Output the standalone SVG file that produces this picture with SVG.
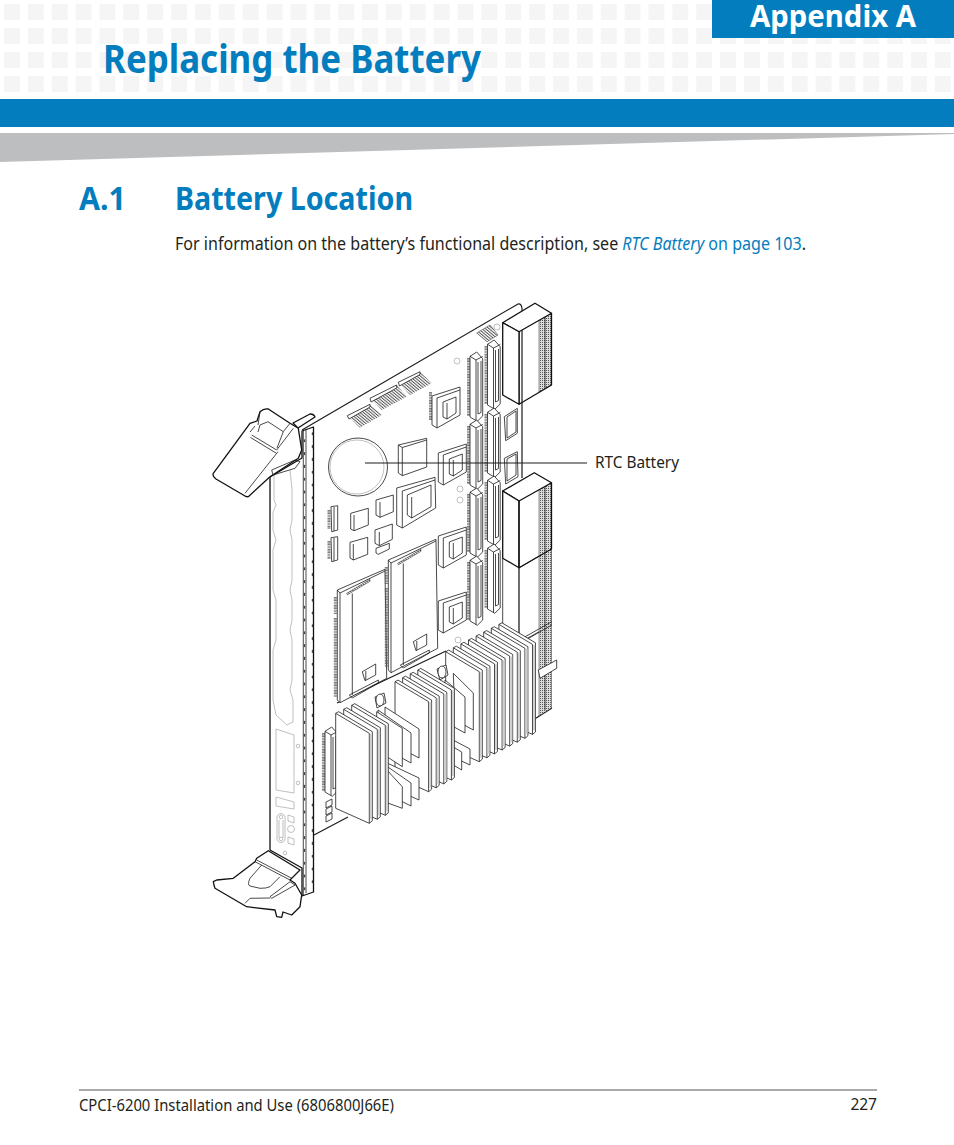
<svg xmlns="http://www.w3.org/2000/svg" width="954" height="1145" viewBox="0 0 954 1145">
<style>
.t{font-family:"Noto Sans","Open Sans","Liberation Sans",sans-serif}
.b{font-weight:700;fill:#037dbd}
.k{fill:#231f20}
.a{fill:#037dbd}
.l{fill:#fff;stroke:#1c1c1c;stroke-width:.8;stroke-linejoin:round}
.h{fill:#fff;stroke:#111;stroke-width:1.3;stroke-linejoin:round}
.n{fill:none;stroke:#1c1c1c;stroke-width:.8;stroke-linejoin:round}
.g{fill:none;stroke:#a5a5a5;stroke-width:.7}
.s{fill:none;stroke:#cfcfcf;stroke-width:2}
.p{fill:none;stroke:#555;stroke-width:3;stroke-dasharray:.8 .8}
.r{fill:none;stroke:#444;stroke-width:1.5;stroke-dasharray:1.6 11.2;stroke-linecap:round}
</style>
<defs>
<pattern id="sq" x="4" y="4" width="23.87" height="24" patternUnits="userSpaceOnUse"><rect width="16" height="16" fill="#f5f5f5"/></pattern>
<pattern id="hx" width="2.3" height="20" patternUnits="userSpaceOnUse" patternTransform="rotate(-50)"><rect width="2.3" height="20" fill="#fff"/><rect width="1" height="20" fill="#555"/></pattern>
<pattern id="cr" width="2" height="2" patternUnits="userSpaceOnUse"><rect width="2" height="2" fill="#dcdcdc"/><rect width="1" height="1" fill="#555"/></pattern>
<g id="conn">
<line class="p" x1="-1.5" y1="6" x2="-1.5" y2="64"/>
<path class="l" d="M6.7,0 L0,4.3 V65 L7.3,69.3 L12.7,64 V6.7 Z"/>
<path class="n" d="M0,4.3 L6,8 L12.7,4.5 M6,8 V68.5 M8,10 V62 L11,60.5 V9"/>
</g>
<g id="quad">
<path class="l" d="M0,9 L28,0 V28 L5,41 L0,38 Z"/>
<path class="n" d="M5,11 V41 M5,11 L28,3 M11,15 L24,10 V26 L15,32 L11,30 Z M15,16 V32"/>
</g>
<g id="fin">
<path class="l" d="M0,0 L3,-1.6 L36.6,18.4 V107.5 L33.6,110 L0,95 Z"/>
<path class="n" d="M0,0 L33.6,20 V110"/>
<line class="s" x1="35.2" y1="20.5" x2="35.2" y2="106"/>
</g>
<g id="mem">
<line class="p" x1="-2" y1="7" x2="-2" y2="24"/>
<line class="p" x1="-2" y1="28" x2="-2" y2="107"/>
<path class="l" d="M0,0 L47.7,-20.7 L49.4,88.3 L2.7,112.7 L0,110 Z"/>
<path class="n" d="M0,0 L2.7,3 L47.7,-19 M2.7,3 V112.7 M15,3.5 V105 M25,81.7 L38.4,74 V85 L27.7,90.7 Z M28.5,81 V90"/>
<path d="M9.4,3.3 L32.7,-10.7 V-8.7 L10,4.8 Z" fill="url(#hx)" stroke="#222" stroke-width=".5"/>
<path class="n" d="M12,105 L41,90 V93 L15,108 Z"/>
</g>
</defs>

<g id="page-header">
<rect width="954" height="94" fill="url(#sq)"/>
<rect y="99" width="954" height="28" fill="#037dbd"/>
<path d="M0,133 H954 V134 L0,162 Z" fill="#bdbebf"/>
<rect x="712" width="242" height="38" fill="#037dbd"/>
<text class="t" x="750" y="26.5" font-size="31" font-weight="700" fill="#fff" textLength="166" lengthAdjust="spacingAndGlyphs">Appendix A</text>
<text class="t b" x="103" y="73" font-size="39" textLength="378" lengthAdjust="spacingAndGlyphs">Replacing the Battery</text>
</g>

<g id="section">
<text class="t b" x="79" y="210" font-size="32" textLength="47" lengthAdjust="spacingAndGlyphs">A.1</text>
<text class="t b" x="175" y="210" font-size="32" textLength="238" lengthAdjust="spacingAndGlyphs">Battery Location</text>
<text class="t k" x="175" y="250" font-size="17.5" textLength="631" lengthAdjust="spacingAndGlyphs">For information on the battery’s functional description, see <tspan class="a" font-style="italic">RTC Battery</tspan><tspan class="a"> on page 103</tspan>.</text>
</g>

<g id="board">
<path class="n" style="stroke-width:1.2" d="M302,430 L518,304 Q521,303 522,308 V478"/>
<path class="n" style="stroke-width:1.2" d="M314,835 L348,817 M337,703 L446,651 M533,720 L552,708"/>
<circle class="g" cx="457" cy="361" r="3"/><circle class="g" cx="460" cy="489" r="3"/><circle class="g" cx="460" cy="500" r="3"/><circle class="g" cx="497" cy="327" r="3"/><circle class="g" cx="458" cy="640" r="3"/>
<path d="M476.7,333 L490,325 L498,335 L487,341.7 Z" fill="url(#hx)" stroke="#333" stroke-width=".5"/>
</g>

<g id="top-headers">
<path d="M347.3,415.7 L370,404.3 L381.7,415 L360,427.7 Z" fill="url(#hx)"/>
<path class="l" d="M347.3,415.7 L370,404.3 V407 L349,419 Z"/>
<path d="M370,398.3 L396.7,385 L406.7,396.7 L381.7,410 Z" fill="url(#hx)"/>
<path class="l" d="M370,398.3 L396.7,385 V388 L371,402 Z"/>
<path d="M398.3,382.3 L420,371.7 L431.7,383.3 L410,395 Z" fill="url(#hx)"/>
<path class="l" d="M398.3,382.3 L420,371.7 V374.5 L399.5,386 Z"/>
</g>

<g id="battery">
<ellipse class="l" cx="358" cy="467" rx="29.5" ry="29"/>
<ellipse class="g" cx="357" cy="467" rx="27" ry="27"/>
</g>

<g id="chips">
<path class="l" d="M398.3,445 L426.7,438.3 V467 L402.3,475.7 L398.3,473 Z"/><path class="n" d="M402.3,447.5 V475.7 M398.3,445 L402.3,447.5 L426.7,440"/>
<line class="p" x1="430.5" y1="392" x2="430.5" y2="420"/>
<use href="#quad" x="432" y="387"/>
<use href="#quad" x="438.3" y="444"/>
<use href="#quad" x="438.3" y="527"/>
<use href="#quad" x="438.3" y="592"/>
<path class="l" d="M396.7,488 L435,477.3 L435.7,508 L402.3,528 L396.7,525 Z"/>
<path class="n" d="M402.3,491 V528 M402.3,491 L435,480 M407.3,495 L431,485 V506.7 L411.7,518 L407.3,515 Z M411.7,497 V518"/>
<path class="l" d="M350.7,513.3 L368.3,508.3 V525 L354,530.7 L350.7,529 Z"/><path class="n" d="M354,515 V530.7"/>
<path class="l" d="M350,542.3 L367.7,537.3 V554.3 L353.3,560 L350,558 Z"/><path class="n" d="M353.3,544 V560"/>
<path class="l" d="M376,500 L393.3,495 V511.7 L380,517.3 L376,515 Z"/><path class="n" d="M380,502 V517.3"/>
<path class="l" d="M375,530 L392.3,524 V539.3 L379.3,545.7 L375,543.3 Z"/><path class="n" d="M379.3,532 V545.7"/>
<path class="l" d="M376,548.3 L389.3,543.3 V549 L378.3,554.3 L376,553 Z"/>
<line class="p" x1="329" y1="510" x2="329" y2="529"/>
<path class="l" d="M331,506.7 L337.7,505.7 V530 L331.7,531.7 Z"/><line class="n" x1="334" y1="507" x2="334" y2="531"/>
<line class="p" x1="329" y1="541" x2="329" y2="559"/>
<path class="l" d="M331,537.7 L337.7,536.7 V560 L331.7,561.7 Z"/><line class="n" x1="334" y1="538" x2="334" y2="561"/>
<path class="l" d="M504.3,416.7 L517.3,408.3 V433.3 L505.7,440.7 Z"/><path class="n" d="M507,417 L516,411 V432 L507,438 Z"/>
<path class="l" d="M504.3,458.3 L517.3,451.7 L518,476.7 L505.7,484 Z"/><path class="n" d="M507,459 L516,454 V475 L507,481 Z"/>
</g>

<g id="long-connectors">
<use href="#conn" x="470" y="352"/><use href="#conn" x="470" y="420"/><use href="#conn" x="470" y="488"/><use href="#conn" x="470" y="556"/>
<use href="#conn" x="487.5" y="340"/><use href="#conn" x="487.5" y="408"/><use href="#conn" x="487.5" y="476"/><use href="#conn" x="487.5" y="544"/>
<use href="#conn" x="325" y="727"/>
<path class="l" d="M326,802 L332,799 V805 L326,808 Z M326,809 L332,806 V812 L326,815 Z M326,816 L332,813 V819 L326,822 Z"/>
</g>

<g id="modules">
<use href="#mem" x="337.3" y="590"/>
<use href="#mem" x="388.3" y="560"/>
</g>

<g id="right-connectors">
<path class="l" d="M519,568 L551,549 V625 L519,643 Z"/>
<path d="M539,320 L551.5,313 V385 L539,392 Z M539,489 L551.5,483 V708 L539,716 Z" fill="url(#cr)" stroke="#222" stroke-width=".5"/>
<path class="h" d="M502.7,322.7 L535,303.3 L551.5,313.3 L519,331.7 Z"/>
<path class="h" style="fill:none" d="M519,331.7 V404.3 L551.5,385 V313.3"/>
<path class="h" d="M502.7,322.7 L519,331.7 V404.3 L502.7,395 Z"/>
<line class="n" x1="545" y1="317" x2="545" y2="388"/>
<path class="h" d="M502.7,491 L534.3,472.7 L551.5,482.7 L519,501 Z"/>
<path class="h" d="M502.7,491 L519,501 V567.7 L502.7,558.3 Z"/>
<path class="h" style="fill:none" d="M519,501 V567.7 L551.5,549 V482.7"/>
<line class="n" x1="545" y1="486" x2="545" y2="710"/>
<path class="n" d="M502.7,558.3 V628 M519,568 V644 M523,638 L551.7,621.7 M524,641 L551.7,625"/>
<path class="l" d="M538.3,670 L556.7,660 V668.3 L540,678.3 Z"/>
</g>

<g id="heatsinks">
<use href="#fin" x="498.9" y="624.4"/><use href="#fin" x="491.3" y="628.3"/><use href="#fin" x="483.7" y="632.2"/><use href="#fin" x="476.1" y="636.1"/><use href="#fin" x="468.5" y="640"/><use href="#fin" x="460.9" y="643.9"/><use href="#fin" x="453.3" y="647.8"/><use href="#fin" x="445.7" y="651.7"/>
<path class="l" d="M453.3,673.3 L473.3,693 V730 L455,720 Z"/>
<path class="l" d="M445,680 L465,697 V733 L445,722 Z"/>
<path class="l" d="M453,740 L470,749 V765 L453,757 Z"/>
<path class="l" d="M445,742 L461.7,752 V770 L445,760 Z"/>
<use href="#fin" x="417.8" y="670"/><use href="#fin" x="410.2" y="673.9"/><use href="#fin" x="402.6" y="677.8"/><use href="#fin" x="395" y="681.7"/>
<path class="l" d="M385,707 L419,729 V758 L385,740 Z"/>
<path class="l" d="M378,710 L411,733 V763 L378,745 Z"/>
<path class="l" d="M376.7,711.7 L402.3,728.3 V766.7 L376.7,750 Z"/>
<path class="l" d="M385,762 L419,778 V800 L385,785 Z"/>
<path class="l" d="M385,765 L411,783 V806 L385,793 Z"/>
<path class="l" d="M385,768 L402.3,786.7 V808.3 L385,802 Z"/>
<use href="#fin" x="351.7" y="705.3"/><use href="#fin" x="343.7" y="709.3"/><use href="#fin" x="335.7" y="713.3"/>
<path class="l" d="M375,697 L384,693 L386,703 L377,708 Z"/><ellipse class="l" cx="380" cy="700" rx="4" ry="6"/>
<path class="l" d="M437,669 L446,665 L448,675 L440,680 Z"/><ellipse class="l" cx="442" cy="672" rx="4" ry="6"/>
</g>

<g id="faceplate">
<path class="h" d="M270,477 V850 L302,868 V896 L313.5,892 V427 L302,431 V458 Z"/>
<path class="n" d="M303.3,431 V895 M306,429 V893"/>
<line class="r" x1="304.5" y1="440" x2="304.5" y2="892"/>
<line class="r" x1="312.5" y1="433" x2="312.5" y2="888"/>
<path class="g" d="M274,475 V500 L276,505 L273,512 V530 L276,540 L273,550 V590 L276,600 V640 L273,650 V700 L276,715 L287,725 L293,722 V700 L290,690 L292,680 V640 L290,630 L292,620 V600 L290,590 L292,580 V540 L290,530 L292,520 V490 L290,470"/>
<path class="g" d="M276,729 L294,735 V793 L276,790 Z M276,797 L294,802 V809 L276,806 Z M277,816 Q281,811 285,816 V840 Q281,845 277,840 Z M279,820 V838 M283,820 V838"/>
<path class="g" d="M288,815 L294,817 V823 L288,821 Z M288,837 L294,839 V845 L288,843 Z"/>
<circle class="g" cx="281" cy="817" r="1.8"/><circle class="g" cx="281" cy="839" r="1.8"/><circle class="g" cx="291" cy="829" r="3.5"/><circle class="g" cx="298" cy="746" r="1.8"/><circle class="g" cx="298" cy="783" r="1.8"/><circle class="g" cx="285" cy="853" r="1.8"/>
</g>

<g id="latch-top">
<path class="h" d="M293,423 L310,414 Q314,414 315,417 L298,428 Z"/>
<path class="h" d="M213.3,473.3 L250,423.3 L257,421 L260,411.7 Q264,408 268.3,409 L290,423.3 L298.3,428.3 L301.7,450 L298.3,458.3 L270,476.7 L248.3,496.7 Q246,497 243.3,495 L216,479 Q212,476 213.3,473.3 Z"/>
<path class="n" d="M251.7,435 L276.7,450 L293.3,428.3 M250.5,437.5 L276,453 M245,493.3 L278,451.7 M258,425 L260,411.7 M255,426 L250,432"/>
<path class="n" d="M260,425 L268,421.7 L283.3,431.7 L277,448 M260,425 L258,432 M283.3,431.7 L290,423.3 M271.7,470 L295,460 L300,461.7 L295,468.3 L273,475 Z"/>
</g>

<g id="latch-bottom">
<path class="h" d="M213.3,881.7 Q214,886 215,888.3 L246.7,906.7 L275,910 L276.7,916.7 L281.7,917.3 L283,912 L291.7,915 L300,906.7 L301.7,895 L295,883.3 L290,880 L300,870 L268.3,850.7 L256.7,858.3 L255,861.7 L233.3,878.3 L216.7,880 Z"/>
<path class="n" d="M256.7,860 L291.7,878.3 L300,870 M255,861.7 L290,880 M261.7,865 L250,878.3 Q247,885 250,886 L260,888.3 Q266,888.5 270,886.7 L280,876.7"/>
<path class="n" d="M270,896.7 L290,881.7 L295,885 L271.7,898.3 Z M245,903.3 L250,898.3 L270,898"/>
</g>

<g id="connectors">
<line x1="365" y1="463" x2="587" y2="463" stroke="#1c1c1c" stroke-width="1"/>
</g>
<text class="t k" x="595" y="468" font-size="16" textLength="84" lengthAdjust="spacingAndGlyphs">RTC Battery</text>

<g id="footer">
<line x1="79" y1="1090" x2="877" y2="1090" stroke="#555" stroke-width="1"/>
<text class="t k" x="79" y="1111" font-size="15.5" textLength="315" lengthAdjust="spacingAndGlyphs">CPCI-6200 Installation and Use (6806800J66E)</text>
<text class="t k" x="877" y="1110" font-size="15.5" text-anchor="end">227</text>
</g>
</svg>
